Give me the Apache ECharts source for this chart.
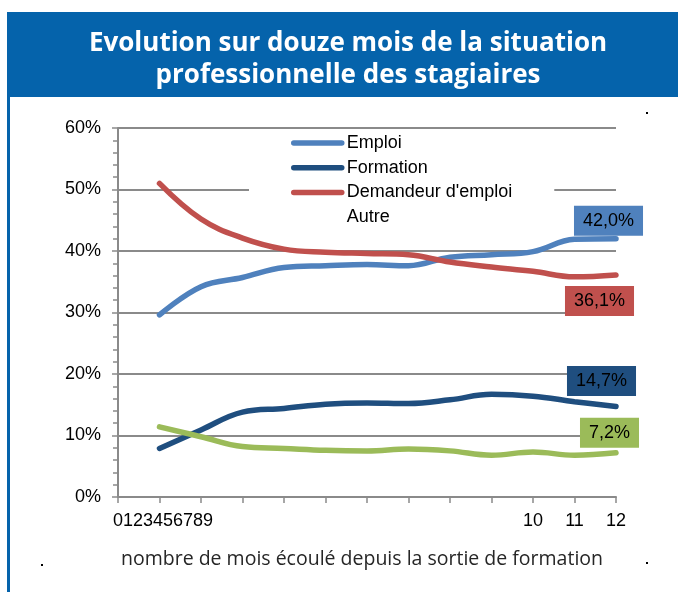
<!DOCTYPE html>
<html>
<head>
<meta charset="utf-8">
<script src="https://cdn.jsdelivr.net/npm/echarts@6/dist/echarts.min.js"></script>
<style>
  html, body { margin: 0; padding: 0; background: #fff; }
  #chart-container { width: 678px; height: 592px; }
</style>
</head>
<body>
<div id="chart-container"></div>
<script>
// months after leaving training
var months = [1, 2, 3, 4, 5, 6, 7, 8, 9, 10, 11, 12];
var tickLabels = ['0123456789', '', '', '', '', '', '', '', '', '', '10', '11', '12'];

// percentages
var emploi = [29.6, 34.2, 35.7, 37.3, 37.6, 37.8, 37.6, 39.0, 39.4, 39.9, 41.9, 42.0];
var formation = [7.9, 10.9, 13.8, 14.4, 15.1, 15.3, 15.2, 15.8, 16.7, 16.4, 15.5, 14.7];
var demandeur = [51.0, 45.2, 42.1, 40.3, 39.8, 39.6, 39.4, 38.2, 37.4, 36.7, 35.8, 36.1];
var autre = [11.4, 9.8, 8.2, 7.9, 7.6, 7.5, 7.8, 7.5, 6.8, 7.3, 6.8, 7.2];

var names = ['Emploi', 'Formation', "Demandeur d'emploi", 'Autre'];
var colors = ['#4F81BD', '#1F4E7F', '#C0504D', '#9BBB59'];

var dom = document.getElementById('chart-container');
var myChart = echarts.init(dom, null, { renderer: 'canvas' });

function pairs(vals) {
  return months.map(function (m, i) { return [m, vals[i]]; });
}

function makeSeries(name, vals, color, offset) {
  return {
    name: name,
    type: 'line',
    data: pairs(vals),
    smooth: 0.4,
    symbol: 'none',
    color: color,
    lineStyle: { width: 5.5, color: color, cap: 'round' },
    endLabel: {
      show: true,
      distance: 0,
      align: 'center',
      verticalAlign: 'middle',
      offset: offset,
      formatter: function (p) { return p.value[1].toFixed(1).replace('.', ',') + '%'; },
      backgroundColor: color,
      color: '#000',
      fontFamily: 'Liberation Sans',
      fontSize: 18,
      padding: [6, 9, 6, 9]
    }
  };
}

var option = {
  animation: false,
  textStyle: { fontFamily: 'Liberation Sans' },
  title: {
    text: 'Evolution sur douze mois de la situation\nprofessionnelle des stagiaires',
    left: 343,
    textAlign: 'center',
    top: 23,
    textStyle: {
      color: '#fff',
      fontFamily: 'Open Sans',
      fontWeight: 'bold',
      fontSize: 26,
      lineHeight: 32
    }
  },
  graphic: [
    { type: 'rect', z: -10, shape: { x: 7, y: 12, width: 671, height: 85 }, style: { fill: '#0563AB' } },
    { type: 'rect', z: -10, shape: { x: 7, y: 97, width: 3, height: 495 }, style: { fill: '#0563AB' } },
    { type: 'rect', shape: { x: 646, y: 112, width: 2, height: 2 }, style: { fill: '#000' } },
    { type: 'rect', shape: { x: 41, y: 564, width: 2, height: 2 }, style: { fill: '#000' } },
    { type: 'rect', shape: { x: 646, y: 562, width: 2, height: 2 }, style: { fill: '#000' } }
  ],
  legend: {
    orient: 'vertical',
    left: 249,
    top: 129,
    padding: [4, 42, 6, 42],
    backgroundColor: '#fff',
    itemWidth: 48,
    itemHeight: 14,
    itemGap: 4.7,
    itemStyle: { opacity: 0 },
    lineStyle: { width: 5.5, cap: 'round' },
    textStyle: { color: '#000', fontSize: 18, lineHeight: 20, fontFamily: 'Liberation Sans' },
    data: [
      { name: names[0] },
      { name: names[1] },
      { name: names[2] },
      { name: names[3], lineStyle: { opacity: 0 } }
    ]
  },
  grid: { left: 118, right: 62, top: 128, bottom: 95, containLabel: false },
  xAxis: {
    type: 'value',
    min: 0,
    max: 12,
    interval: 1,
    name: 'nombre de mois écoulé depuis la sortie de formation',
    nameLocation: 'middle',
    nameGap: 52,
    nameTextStyle: { color: '#262626', fontFamily: 'Open Sans', fontSize: 19.5, padding: [0, 10, 0, 0] },
    axisLine: { lineStyle: { color: '#8a8a8a', width: 2 } },
    axisTick: { show: true, length: 6, lineStyle: { color: '#8a8a8a', width: 1.5 } },
    splitLine: { show: false },
    axisLabel: {
      color: '#000',
      fontSize: 18,
      margin: 15,
      formatter: function (v) {
        return v === 0 ? '{first|' + tickLabels[0] + '}' : tickLabels[v];
      },
      rich: { first: { fontSize: 18, color: '#000', padding: [0, 0, 0, 90] } }
    }
  },
  yAxis: {
    type: 'value',
    min: 0,
    max: 60,
    interval: 10,
    axisLine: { show: true, lineStyle: { color: '#8a8a8a', width: 2 } },
    axisTick: { show: true, length: 6, lineStyle: { color: '#8a8a8a', width: 1.5 } },
    minorTick: { show: true, splitNumber: 5, length: 5, lineStyle: { color: '#8a8a8a', width: 1.5 } },
    splitLine: { show: true, lineStyle: { color: '#8a8a8a', width: 2 } },
    axisLabel: { color: '#000', fontSize: 18, margin: 17, formatter: '{value}%' }
  },
  series: [
    makeSeries(names[0], emploi, colors[0], [-7.5, -18]),
    makeSeries(names[1], formation, colors[1], [-14.5, -25.5]),
    makeSeries(names[2], demandeur, colors[2], [-16.5, 26]),
    makeSeries(names[3], autre, colors[3], [-6.5, -20])
  ]
};

myChart.setOption(option);
window.addEventListener('resize', myChart.resize);
</script>
</body>
</html>
